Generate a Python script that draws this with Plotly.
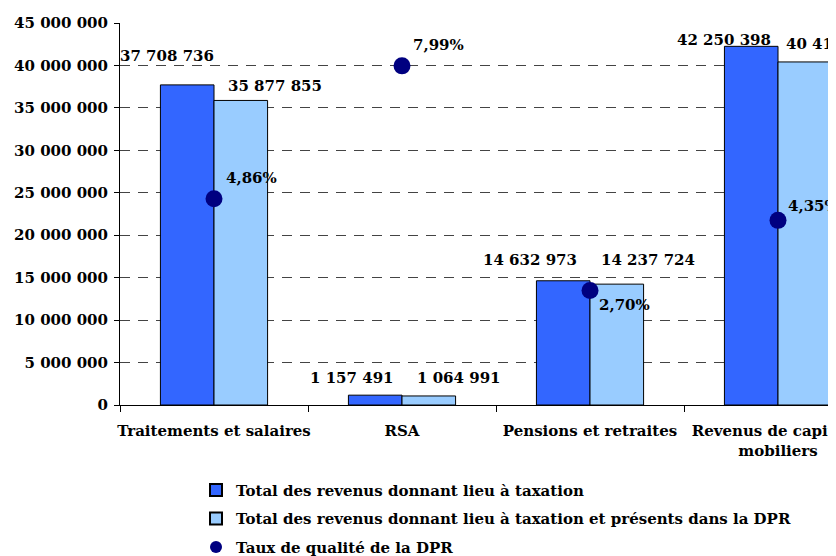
import plotly.graph_objects as go

categories = ["Traitements et salaires", "RSA", "Pensions et retraites", "Revenus de capitaux<br>mobiliers"]
total_taxation = [37708736, 1157491, 14632973, 42250398]
total_dpr = [35877855, 1064991, 14237724, 40412505]
taux_qualite = [4.86, 7.99, 2.70, 4.35]

name_total = "Total des revenus donnant lieu à taxation"
name_dpr = "Total des revenus donnant lieu à taxation et présents dans la DPR"
name_taux = "Taux de qualité de la DPR"

# label offsets (style, px)
dark_xshift = [2, -6, -11, -5]
dark_yshift = [18, 6, 10, -5]
light_xshift = [12, 13, 9, 6]
light_yshift = [3, 7, 13, 7]
pct_shift = [(10, 21), (9, 21), (7, -15), (8, 14)]

FONT = "DejaVu Serif"

def fmt_int(v):
    return f"{v:,}".replace(",", " ")

def fmt_pct(v):
    return f"{v:.2f}".replace(".", ",") + "%"

fig = go.Figure()
fig.add_trace(go.Bar(x=categories, y=total_taxation, name=name_total,
                     marker=dict(color="#3366FF", line=dict(color="black", width=1)),
                     legendgroup="a"))
fig.add_trace(go.Bar(x=categories, y=total_dpr, name=name_dpr,
                     marker=dict(color="#99CCFF", line=dict(color="black", width=1)),
                     legendgroup="b"))
fig.add_trace(go.Scatter(x=categories, y=taux_qualite, name=name_taux, mode="markers",
                         yaxis="y2", marker=dict(color="#000080", size=17),
                         legendgroup="c"))

ann = []
for i, c in enumerate(categories):
    ann.append(dict(x=c, y=total_taxation[i], text=fmt_int(total_taxation[i]), showarrow=False,
                    xanchor="right", yanchor="bottom", xshift=dark_xshift[i], yshift=dark_yshift[i],
                    xref="x", yref="y"))
    ann.append(dict(x=c, y=total_dpr[i], text=fmt_int(total_dpr[i]), showarrow=False,
                    xanchor="left", yanchor="bottom", xshift=light_xshift[i], yshift=light_yshift[i],
                    xref="x", yref="y"))
    ann.append(dict(x=c, y=taux_qualite[i], text=fmt_pct(taux_qualite[i]), showarrow=False,
                    xanchor="left", yanchor="middle", xshift=pct_shift[i][0], yshift=pct_shift[i][1],
                    xref="x", yref="y2"))

fig.update_layout(
    width=836, height=556,
    margin=dict(l=112, r=0, t=15, b=159, autoexpand=False),
    paper_bgcolor="white", plot_bgcolor="white",
    font=dict(family=FONT, size=15, color="black", weight="bold"),
    separators=", ",
    barmode="group", bargap=0.43, bargroupgap=0,
    showlegend=True,
    legend=dict(orientation="v", x=0.105, xanchor="left", y=-0.18, yanchor="top",
                font=dict(family=FONT, size=15, color="black", weight="bold"),
                tracegroupgap=6, itemsizing="constant", bgcolor="rgba(0,0,0,0)"),
    annotations=ann,
    xaxis=dict(range=[-0.5, 3.351], showline=True, linecolor="black", linewidth=1,
               ticks="outside", tickson="boundaries", ticklen=6, tickcolor="black",
               tickangle=0, automargin=False, ticklabelstandoff=12,
               showgrid=False, zeroline=False),
    yaxis=dict(range=[0, 45000000], dtick=5000000, tickformat=",d",
               showline=True, linecolor="black", linewidth=1,
               ticks="outside", ticklen=5, tickcolor="black", automargin=False,
               ticklabelstandoff=3,
               showgrid=True, gridcolor="#444444", gridwidth=1, griddash="10px,8px",
               zeroline=False),
    yaxis2=dict(range=[0, 9], overlaying="y", side="right", visible=False),
)

fig.write_html("out.html")
